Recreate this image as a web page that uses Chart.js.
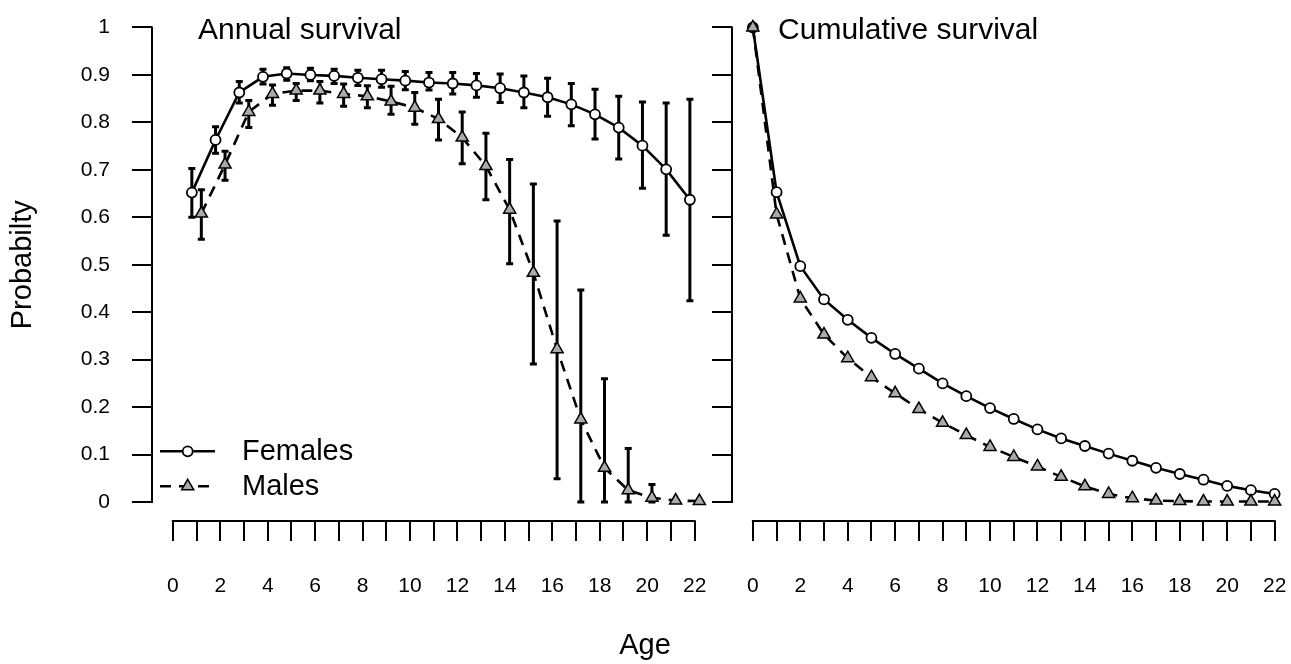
<!DOCTYPE html>
<html lang="en">
<head>
<meta charset="utf-8">
<title>Survival by age</title>
<script src="https://cdn.jsdelivr.net/npm/chart.js"></script>
<style>
  html, body { margin: 0; padding: 0; background: #fff; overflow: hidden; }
  .panel { position: absolute; top: 0; height: 664px; }
  #left { left: 0; width: 724px; }
  #right { left: 700px; width: 604px; }
</style>
</head>
<body>
<div class="panel" id="left"><canvas id="annualChart"></canvas></div>
<div class="panel" id="right"><canvas id="cumChart"></canvas></div>
<script>
// annual survival with confidence limits, ages 1-22
const ages = [1, 2, 3, 4, 5, 6, 7, 8, 9, 10, 11, 12, 13, 14, 15, 16, 17, 18, 19, 20, 21, 22];
const femaleAnnual = [0.652, 0.763, 0.863, 0.896, 0.903, 0.900, 0.898, 0.894, 0.891, 0.888, 0.884,
                      0.882, 0.878, 0.872, 0.863, 0.853, 0.838, 0.817, 0.789, 0.751, 0.701, 0.637];
const femaleLower = [0.600, 0.735, 0.841, 0.881, 0.889, 0.888, 0.882, 0.878, 0.874, 0.869, 0.868,
                     0.860, 0.853, 0.842, 0.831, 0.813, 0.793, 0.765, 0.723, 0.661, 0.562, 0.424];
const femaleUpper = [0.703, 0.791, 0.886, 0.912, 0.915, 0.914, 0.912, 0.910, 0.910, 0.907, 0.905,
                     0.905, 0.903, 0.902, 0.898, 0.893, 0.882, 0.870, 0.855, 0.843, 0.841, 0.849];
const maleAnnual = [0.608, 0.711, 0.822, 0.860, 0.867, 0.867, 0.860, 0.855, 0.844, 0.831, 0.807,
                    0.768, 0.708, 0.616, 0.483, 0.322, 0.174, 0.072, 0.025, 0.009, 0.003, 0.002];
const maleLower = [0.554, 0.678, 0.789, 0.836, 0.846, 0.841, 0.834, 0.831, 0.817, 0.796, 0.763,
                   0.713, 0.637, 0.502, 0.291, 0.049, 0.000, 0.000, 0.000, 0.000, 0.003, 0.002];
const maleUpper = [0.658, 0.739, 0.846, 0.879, 0.882, 0.886, 0.881, 0.877, 0.876, 0.863, 0.849,
                   0.822, 0.777, 0.722, 0.670, 0.592, 0.447, 0.260, 0.113, 0.037, 0.003, 0.002];

// cumulative survival, ages 0-22
const cumAges = [0, 1, 2, 3, 4, 5, 6, 7, 8, 9, 10, 11, 12, 13, 14, 15, 16, 17, 18, 19, 20, 21, 22];
const femaleCumulative = [1, 0.653, 0.497, 0.427, 0.384, 0.346, 0.312, 0.281, 0.250, 0.223, 0.198, 0.175,
                          0.153, 0.134, 0.118, 0.102, 0.087, 0.072, 0.059, 0.047, 0.034, 0.025, 0.017];
const maleCumulative = [1, 0.606, 0.429, 0.353, 0.303, 0.263, 0.229, 0.196, 0.167, 0.141, 0.116, 0.095,
                        0.075, 0.053, 0.033, 0.017, 0.008, 0.003, 0.002, 0.001, 0.001, 0.001, 0.001];

const xTicks = [0, 1, 2, 3, 4, 5, 6, 7, 8, 9, 10, 11, 12, 13, 14, 15, 16, 17, 18, 19, 20, 21, 22];
const yTicks = [0, 0.1, 0.2, 0.3, 0.4, 0.5, 0.6, 0.7, 0.8, 0.9, 1];
const yTickLabels = ['0', '0.1', '0.2', '0.3', '0.4', '0.5', '0.6', '0.7', '0.8', '0.9', '1'];

const DODGE = 0.2;   // sideways shift so the two sexes don't overlap
const FONT = '"Liberation Sans", Arial, sans-serif';
Chart.defaults.font.family = FONT;
Chart.defaults.color = '#000';

const femaleStyle = {
  label: 'Females', borderColor: '#000', borderWidth: 2.6, pointStyle: 'circle',
  pointRadius: 5, pointBackgroundColor: '#fff', pointBorderColor: '#000', pointBorderWidth: 1.8, order: 1
};
const maleStyle = {
  label: 'Males', borderColor: '#000', borderWidth: 2.6, borderDash: [11, 8], pointStyle: 'triangle',
  pointRadius: 7, pointBackgroundColor: '#aaaaaa', pointBorderColor: '#000', pointBorderWidth: 1.5, order: 0
};

// axis line only between first and last tick, like base graphics
const rAxes = {
  id: 'rAxes',
  afterDraw(chart) {
    const {ctx, scales: {x, y}} = chart;
    ctx.save();
    ctx.strokeStyle = '#000';
    ctx.lineWidth = 2;
    ctx.lineCap = 'square';
    ctx.beginPath();
    ctx.moveTo(x.getPixelForValue(xTicks[0]), x.top);
    ctx.lineTo(x.getPixelForValue(xTicks[xTicks.length - 1]), x.top);
    ctx.moveTo(y.right, y.getPixelForValue(yTicks[0]));
    ctx.lineTo(y.right, y.getPixelForValue(yTicks[yTicks.length - 1]));
    ctx.stroke();
    ctx.restore();
  }
};

const errorBars = {
  id: 'errorBars',
  beforeDatasetsDraw(chart) {
    const {ctx, scales: {x, y}} = chart;
    ctx.save();
    ctx.strokeStyle = '#000';
    ctx.lineWidth = 3;
    chart.data.datasets.forEach(ds => {
      if (!ds.errLo) return;
      ds.data.forEach((p, i) => {
        const px = x.getPixelForValue(p.x);
        const lo = y.getPixelForValue(ds.errLo[i]);
        const hi = y.getPixelForValue(ds.errHi[i]);
        if (Math.abs(lo - hi) < 1) return;
        ctx.beginPath();
        ctx.moveTo(px, lo); ctx.lineTo(px, hi);
        ctx.moveTo(px - 3.5, lo); ctx.lineTo(px + 3.5, lo);
        ctx.moveTo(px - 3.5, hi); ctx.lineTo(px + 3.5, hi);
        ctx.stroke();
      });
    });
    ctx.restore();
  }
};

const panelLabel = {
  id: 'panelLabel',
  afterDraw(chart, args, opts) {
    const {ctx, scales: {x, y}} = chart;
    ctx.save();
    ctx.font = '30px ' + FONT;
    ctx.fillStyle = '#000';
    ctx.textBaseline = 'alphabetic';
    ctx.fillText(opts.text, x.getPixelForValue(1) + 1.5, y.getPixelForValue(1) + 12);
    ctx.restore();
  }
};

function drawMarker(ctx, ds, cx, cy) {
  ctx.setLineDash([]);
  ctx.fillStyle = ds.pointBackgroundColor;
  ctx.strokeStyle = ds.pointBorderColor;
  ctx.lineWidth = ds.pointBorderWidth;
  const r = ds.pointRadius;
  ctx.beginPath();
  if (ds.pointStyle === 'triangle') {
    ctx.moveTo(cx, cy - r);
    ctx.lineTo(cx + r * 0.866, cy + r / 2);
    ctx.lineTo(cx - r * 0.866, cy + r / 2);
    ctx.closePath();
  } else {
    ctx.arc(cx, cy, r, 0, Math.PI * 2);
  }
  ctx.fill();
  ctx.stroke();
}

const sexLegend = {
  id: 'sexLegend',
  afterDraw(chart) {
    const {ctx, chartArea: area, scales: {y}} = chart;
    const base = y.getPixelForValue(0);
    const rows = [base - 50.7, base - 15.7];
    ctx.save();
    chart.data.datasets.forEach((ds, i) => {
      const ry = rows[i];
      ctx.strokeStyle = ds.borderColor;
      ctx.lineWidth = ds.borderWidth;
      ctx.setLineDash(ds.borderDash || []);
      ctx.beginPath();
      ctx.moveTo(area.left + 8, ry);
      ctx.lineTo(area.left + 63, ry);
      ctx.stroke();
      drawMarker(ctx, ds, area.left + 35.7, ry);
      ctx.font = '29px ' + FONT;
      ctx.fillStyle = '#000';
      ctx.textBaseline = 'middle';
      ctx.fillText(ds.label, area.left + 90, ry + 1);
    });
    ctx.restore();
  }
};

const ageTitle = {
  id: 'ageTitle',
  afterDraw(chart) {
    const ctx = chart.ctx;
    ctx.save();
    ctx.font = '29px ' + FONT;
    ctx.fillStyle = '#000';
    ctx.textAlign = 'center';
    ctx.textBaseline = 'middle';
    ctx.fillText('Age', 645, 646);
    ctx.restore();
  }
};

function xAxis() {
  return {
    type: 'linear', min: -0.88, max: 22.88,
    afterBuildTicks: s => { s.ticks = xTicks.map(v => ({value: v})); },
    afterFit: s => { s.height = 100; s.paddingLeft = 0; s.paddingRight = 0; },
    border: {display: false},
    grid: {drawOnChartArea: false, drawTicks: true, tickLength: 20, lineWidth: 2, color: '#000'},
    ticks: {
      autoSkip: false, maxRotation: 0, padding: 33, font: {size: 21}, color: '#000',
      callback: v => (v % 2 === 0 ? String(v) : '')
    }
  };
}

function yAxis(width, showLabels, title) {
  return {
    type: 'linear', min: -0.04, max: 1.04,
    afterBuildTicks: s => { s.ticks = yTicks.map(v => ({value: v})); },
    afterFit: s => { s.width = width; s.paddingTop = 0; s.paddingBottom = 0; },
    border: {display: false},
    grid: {drawOnChartArea: false, drawTicks: true, tickLength: 20, lineWidth: 2, color: '#000'},
    ticks: {
      display: showLabels, padding: 22, font: {size: 21}, color: '#000',
      callback: (v, i) => yTickLabels[i]
    },
    title: title
      ? {display: true, text: title, font: {size: 29}, color: '#000', padding: {top: 6, bottom: 0}}
      : {display: false}
  };
}

function baseOptions(rightPad, yScale, label) {
  return {
    responsive: true,
    maintainAspectRatio: false,
    animation: false,
    layout: {padding: {left: 0, top: 1, right: rightPad, bottom: 43}},
    scales: {x: xAxis(), y: yScale},
    plugins: {legend: {display: false}, tooltip: {enabled: false}, panelLabel: {text: label}}
  };
}

new Chart(document.getElementById('annualChart'), {
  type: 'line',
  data: {
    datasets: [
      Object.assign({}, femaleStyle, {
        data: ages.map((a, i) => ({x: a - DODGE, y: femaleAnnual[i]})),
        errLo: femaleLower, errHi: femaleUpper
      }),
      Object.assign({}, maleStyle, {
        data: ages.map((a, i) => ({x: a + DODGE, y: maleAnnual[i]})),
        errLo: maleLower, errHi: maleUpper
      })
    ]
  },
  options: baseOptions(8, yAxis(152, true, 'Probabilty'), 'Annual survival'),
  plugins: [rAxes, errorBars, panelLabel, sexLegend, ageTitle]
});

new Chart(document.getElementById('cumChart'), {
  type: 'line',
  data: {
    datasets: [
      Object.assign({}, femaleStyle, {data: cumAges.map((a, i) => ({x: a, y: femaleCumulative[i]}))}),
      Object.assign({}, maleStyle, {data: cumAges.map((a, i) => ({x: a, y: maleCumulative[i]}))})
    ]
  },
  options: baseOptions(8, yAxis(32, false, null), 'Cumulative survival'),
  plugins: [rAxes, panelLabel]
});
</script>
</body>
</html>
